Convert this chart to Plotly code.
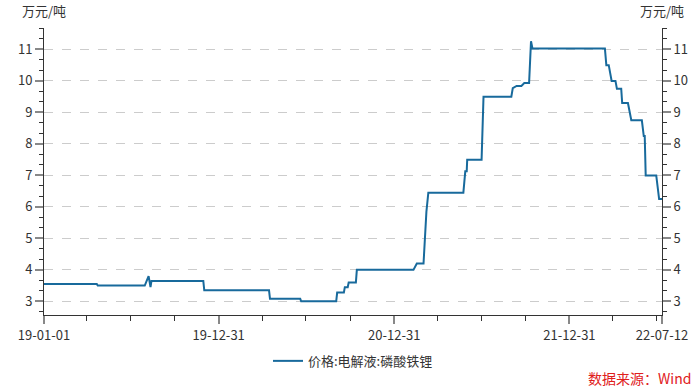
import plotly.graph_objects as go

dates = [
    "2019-01-01", "2019-04-21", "2019-04-23", "2019-07-30", "2019-08-07", "2019-08-11",
    "2019-08-13", "2019-11-29", "2019-12-01", "2020-04-14", "2020-04-16", "2020-06-18",
    "2020-06-20", "2020-09-01", "2020-09-03", "2020-09-17", "2020-09-19", "2020-09-25",
    "2020-09-27", "2020-10-12", "2020-10-14", "2021-02-09", "2021-02-16", "2021-03-02",
    "2021-03-08", "2021-03-12", "2021-05-24", "2021-05-28", "2021-05-31", "2021-06-01",
    "2021-07-01", "2021-07-05", "2021-09-01", "2021-09-04", "2021-09-12", "2021-09-22",
    "2021-09-28", "2021-10-08", "2021-10-12", "2021-10-15", "2022-03-15", "2022-03-18",
    "2022-03-23", "2022-03-29", "2022-04-06", "2022-04-09", "2022-04-18", "2022-04-20",
    "2022-05-02", "2022-05-09", "2022-05-31", "2022-06-04", "2022-06-06", "2022-06-08",
    "2022-06-30", "2022-07-06", "2022-07-12",
]
prices = [
    3.55, 3.55, 3.50, 3.50, 3.80, 3.45,
    3.65, 3.65, 3.35, 3.35, 3.08, 3.08,
    3.00, 3.00, 3.28, 3.28, 3.45, 3.45,
    3.60, 3.60, 4.00, 4.00, 4.20, 4.20,
    5.85, 6.45, 6.45, 7.13, 7.13, 7.50,
    7.50, 9.50, 9.50, 9.77, 9.84, 9.84,
    9.93, 9.93, 11.26, 11.03, 11.03, 10.50,
    10.50, 10.00, 10.00, 9.75, 9.75, 9.30,
    9.30, 8.75, 8.75, 8.25, 8.25, 7.00,
    7.00, 6.25, 6.25,
]

series_name = "价格:电解液:磷酸铁锂"
unit_label = "万元/吨"
source_label = "数据来源：Wind"

x_tick_vals = ["2019-01-01", "2019-12-31", "2020-12-31", "2021-12-31", "2022-07-12"]
x_tick_text = ["19-01-01", "19-12-31", "20-12-31", "21-12-31", "22-07-12"]
x_minor_vals = [
    "2019-03-31", "2019-06-30", "2019-09-30", "2020-03-31", "2020-06-30", "2020-09-30",
    "2021-03-31", "2021-06-30", "2021-09-30", "2022-03-31", "2022-06-30",
]
y_tick_vals = [3, 4, 5, 6, 7, 8, 9, 10, 11]

FONT = "Microsoft YaHei, Noto Sans CJK SC, sans-serif"
LINE_COLOR = "#186a9c"
AX_COLOR = "#333333"

fig = go.Figure()
fig.add_trace(go.Scatter(
    x=dates, y=prices, mode="lines", name=series_name,
    line=dict(color=LINE_COLOR, width=2),
))
fig.add_trace(go.Scatter(
    x=dates, y=prices, mode="lines", yaxis="y2", showlegend=False,
    line=dict(color="rgba(0,0,0,0)", width=0), hoverinfo="skip",
))

yrange = [2.567, 11.68]
ycommon = dict(
    range=yrange, tickmode="array", tickvals=y_tick_vals,
    ticks="outside", ticklen=8, tickcolor="#888888", tickwidth=2,
    showline=True, linecolor=AX_COLOR, linewidth=1,
    tickfont=dict(size=13, color=AX_COLOR, family=FONT),
    minor=dict(ticks="outside", dtick=1/3, tick0=3, ticklen=4,
               tickcolor=AX_COLOR, tickwidth=1, showgrid=False),
    zeroline=False,
)

fig.update_layout(
    width=700, height=388,
    margin=dict(l=44, r=36, t=28, b=72),
    paper_bgcolor="white", plot_bgcolor="white",
    font=dict(family=FONT, size=13, color=AX_COLOR),
    xaxis=dict(
        type="date", range=["2019-01-01", "2022-07-12"],
        tickmode="array", tickvals=x_tick_vals, ticktext=x_tick_text,
        ticks="outside", ticklen=8, tickcolor="#888888", tickwidth=2,
        showline=True, linecolor=AX_COLOR, linewidth=1, showgrid=False,
        tickfont=dict(size=13, color=AX_COLOR, family=FONT),
        minor=dict(ticks="outside", tickmode="array", tickvals=x_minor_vals,
                   ticklen=5, tickcolor=AX_COLOR, tickwidth=1, showgrid=False),
        zeroline=False,
    ),
    yaxis=dict(**ycommon, showgrid=True, gridcolor="#cccccc", griddash="dash",
               gridwidth=1),
    yaxis2=dict(**ycommon, overlaying="y", side="right", showgrid=False),
    showlegend=True,
    legend=dict(orientation="h", x=0.5, xanchor="center", y=-0.16, yanchor="middle",
                font=dict(size=13, color=AX_COLOR, family=FONT),
                bgcolor="rgba(0,0,0,0)"),
    annotations=[
        dict(text=unit_label, xref="paper", yref="paper", x=0.0, y=1.0,
             xanchor="center", yanchor="bottom", yshift=6, showarrow=False,
             font=dict(size=13, color=AX_COLOR, family=FONT)),
        dict(text=unit_label, xref="paper", yref="paper", x=1.0, y=1.0,
             xanchor="center", yanchor="bottom", yshift=6, showarrow=False,
             font=dict(size=13, color=AX_COLOR, family=FONT)),
        dict(text=source_label, xref="paper", yref="paper", x=1.05, y=-0.219,
             xanchor="right", yanchor="middle", showarrow=False,
             font=dict(size=14, color="#e0201b", family=FONT)),
    ],
)

fig.write_html("out.html")
